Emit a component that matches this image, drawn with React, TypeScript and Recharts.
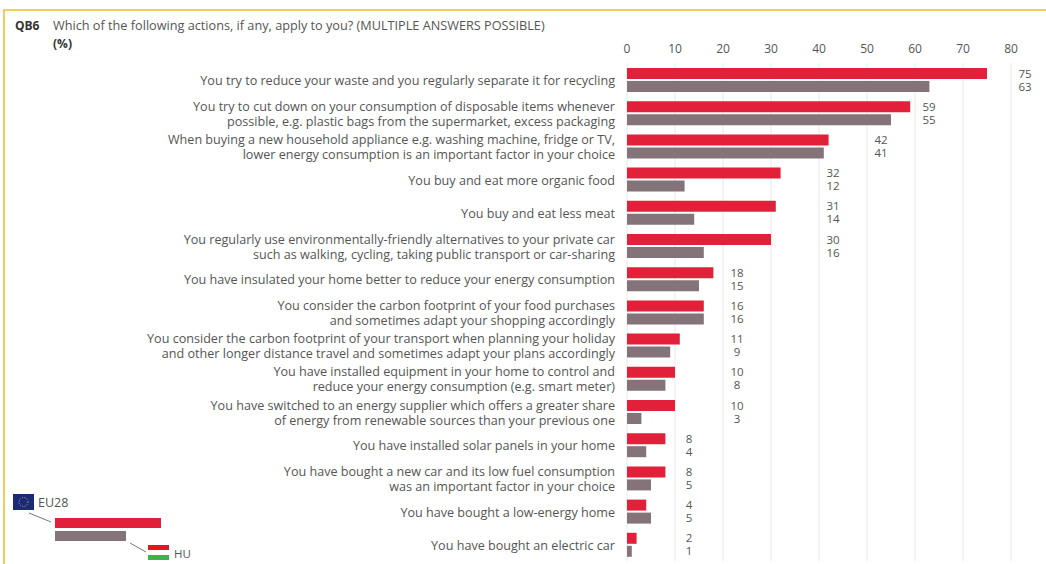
import React from "react";
import { BarChart, Bar, XAxis, YAxis, CartesianGrid, LabelList } from "recharts";

const actions = [
  "You try to reduce your waste and you regularly separate it for recycling",
  "You try to cut down on your consumption of disposable items whenever\npossible, e.g. plastic bags from the supermarket, excess packaging",
  "When buying a new household appliance e.g. washing machine, fridge or TV,\nlower energy consumption is an important factor in your choice",
  "You buy and eat more organic food",
  "You buy and eat less meat",
  "You regularly use environmentally-friendly alternatives to your private car\nsuch as walking, cycling, taking public transport or car-sharing",
  "You have insulated your home better to reduce your energy consumption",
  "You consider the carbon footprint of your food purchases\nand sometimes adapt your shopping accordingly",
  "You consider the carbon footprint of your transport when planning your holiday\nand other longer distance travel and sometimes adapt your plans accordingly",
  "You have installed equipment in your home to control and\nreduce your energy consumption (e.g. smart meter)",
  "You have switched to an energy supplier which offers a greater share\nof energy from renewable sources than your previous one",
  "You have installed solar panels in your home",
  "You have bought a new car and its low fuel consumption\nwas an important factor in your choice",
  "You have bought a low-energy home",
  "You have bought an electric car",
];
const eu28Values = [75, 59, 42, 32, 31, 30, 18, 16, 11, 10, 10, 8, 8, 4, 2];
const huValues = [63, 55, 41, 12, 14, 16, 15, 16, 9, 8, 3, 4, 5, 5, 1];
const percentTicks = [0, 10, 20, 30, 40, 50, 60, 70, 80];

const RED = "#e2203a";
const GREY = "#85737a";
const TEXT = "#555555";
const FONT = "'Open Sans', sans-serif";

const rows = actions.map((action, i) => ({ action, eu28: eu28Values[i], hu: huValues[i] }));

// Values sit in a column just past the next gridline beyond the row's longer bar.
function nextGridValue(index: number) {
  const longest = Math.max(eu28Values[index], huValues[index]);
  return Math.floor(longest / 10) * 10 + 10;
}

function ValueLabel(props: any) {
  const { x, y, width, height, value, index } = props;
  const unit = width / value;
  return (
    <text
      x={x + unit * nextGridValue(index) + 14}
      y={y + height / 2}
      dy="0.36em"
      textAnchor="middle"
      fontSize={11.5}
      fontFamily={FONT}
      fill={TEXT}
    >
      {value}
    </text>
  );
}

function ActionTick(props: any) {
  const { x, y, payload } = props;
  const lines: string[] = String(payload.value).split("\n");
  const lineHeight = 15;
  const right = x - 2;
  return (
    <text x={right} y={y} textAnchor="end" fontSize={12.6} fontFamily={FONT} fill={TEXT}>
      {lines.map((line, i) => (
        <tspan key={i} x={right} y={y + 1 + (i - (lines.length - 1) / 2) * lineHeight} dy="0.36em">
          {line}
        </tspan>
      ))}
    </text>
  );
}

function LegendKey() {
  return (
    <svg width={210} height={80} style={{ position: "absolute", left: 0, top: 484 }}>
      <rect x={13} y={10} width={21} height={16} fill="#1b2a78" />
      <circle cx={23.5} cy={18} r={4.5} fill="none" stroke="#c9b23c" strokeWidth={1} strokeDasharray="1 1.4" />
      <text x={38} y={23} fontSize={12.5} fontFamily={FONT} fill={TEXT}>EU28</text>
      <line x1={29} y1={29} x2={51} y2={38} stroke="#777" strokeWidth={1} />
      <rect x={55} y={34} width={106} height={10} fill={RED} />
      <rect x={55} y={47} width={71} height={10} fill={GREY} />
      <line x1={130} y1={59} x2={146} y2={68} stroke="#777" strokeWidth={1} />
      <rect x={148} y={61} width={21} height={5} fill="#e5141f" />
      <rect x={148} y={71} width={21} height={5} fill="#3cb54a" />
      <text x={174} y={74} fontSize={11.5} fontFamily={FONT} fill={TEXT}>HU</text>
    </svg>
  );
}

export default function App() {
  return (
    <div style={{ position: "absolute", left: 0, top: 0, width: 1046, height: 564, overflow: "hidden", background: "#fff" }}>
      <div style={{ position: "absolute", left: 4, top: 9, width: 1042, height: 2, background: "#f3cd5c" }} />
      <div style={{ position: "absolute", left: 3, top: 9, width: 2, height: 555, background: "#f3cd5c" }} />
      <div style={{ position: "absolute", left: 15, top: 17, fontFamily: FONT, fontSize: 12, fontWeight: 700, color: "#333" }}>QB6</div>
      <div style={{ position: "absolute", left: 53, top: 16, fontFamily: FONT, fontSize: 12.7, color: TEXT }}>
        Which of the following actions, if any, apply to you? (MULTIPLE ANSWERS POSSIBLE)
      </div>
      <div style={{ position: "absolute", left: 53, top: 35, fontFamily: FONT, fontSize: 12, fontWeight: 700, color: "#333" }}>(%)</div>
      <div style={{ position: "absolute", left: 0, top: 0 }}>
        <BarChart
          width={1046}
          height={564}
          data={rows}
          layout="vertical"
          barSize={11}
          barGap={2}
          margin={{ top: 0, right: 35, bottom: 3, left: 0 }}
        >
          <CartesianGrid horizontal={false} stroke="#e9e9e9" />
          <XAxis
            type="number"
            orientation="top"
            domain={[0, 80]}
            ticks={percentTicks}
            height={63}
            axisLine={false}
            tickLine={false}
            tickMargin={4}
            tick={{ fontSize: 12, fontFamily: FONT, fill: TEXT }}
          />
          <YAxis
            type="category"
            dataKey="action"
            width={627}
            axisLine={false}
            tickLine={false}
            interval={0}
            tickMargin={4}
            tick={<ActionTick />}
          />
          <Bar dataKey="eu28" fill={RED} isAnimationActive={false}>
            <LabelList dataKey="eu28" content={<ValueLabel />} />
          </Bar>
          <Bar dataKey="hu" fill={GREY} isAnimationActive={false}>
            <LabelList dataKey="hu" content={<ValueLabel />} />
          </Bar>
        </BarChart>
      </div>
      <LegendKey />
    </div>
  );
}
